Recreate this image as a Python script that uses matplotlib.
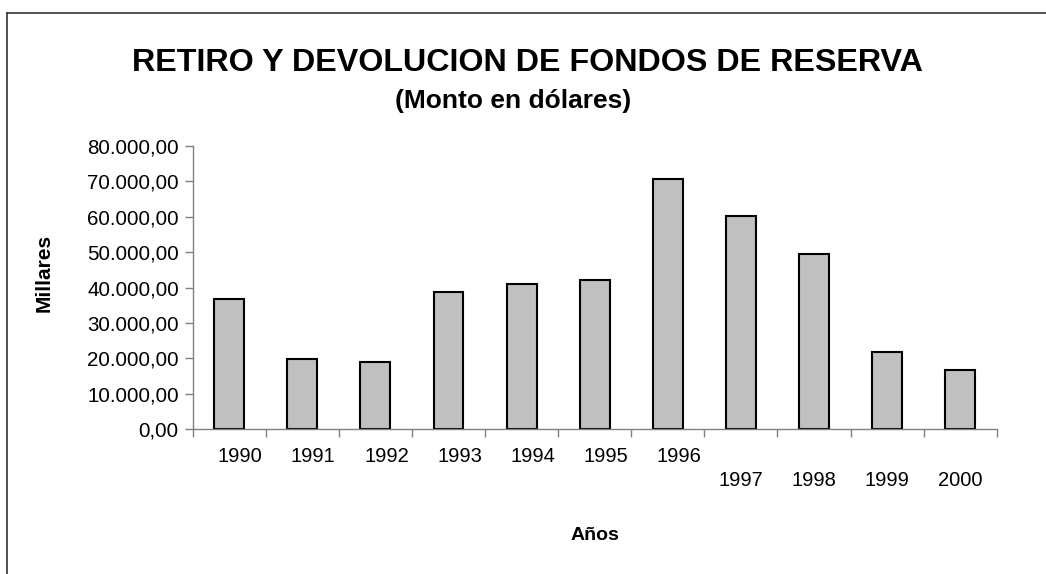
import matplotlib.pyplot as plt
import matplotlib.transforms as mtransforms
from matplotlib.lines import Line2D
from matplotlib.ticker import FuncFormatter

plt.rcParams['font.family'] = ['Liberation Sans', 'DejaVu Sans']

################################
# Data
################################
years = ['1990', '1991', '1992', '1993', '1994', '1995',
         '1996', '1997', '1998', '1999', '2000']
montos = [36800, 19800, 19000, 38700, 41000, 42100,
          70800, 60200, 49400, 21900, 16650]

################################
# Plot
################################
fig = plt.figure(figsize=(10.46, 5.74), dpi=100)
ax = fig.add_axes([0.1842, 0.2526, 0.7687, 0.4930])

x = list(range(len(years)))
ax.bar(x, montos, width=0.41, color='#C0C0C0', edgecolor='black', linewidth=1.5)

ax.set_xlim(-0.5, len(years) - 0.5)
ax.set_ylim(0, 80000)
ax.set_yticks(range(0, 80001, 10000))

def fmt(v, pos):
    s = f'{v:,.2f}'
    return s.replace(',', 'X').replace('.', ',').replace('X', '.')

ax.yaxis.set_major_formatter(FuncFormatter(fmt))

# category ticks between bars, labels at bar centers
ax.set_xticks([i - 0.5 for i in range(len(years) + 1)])
ax.set_xticklabels([])
ax.set_xticks(x, minor=True)
ax.set_xticklabels([y if i < 7 else '\n' + y for i, y in enumerate(years)],
                   minor=True, linespacing=1.3)
ax.tick_params(axis='x', which='minor', length=0, pad=13, labelsize=14.5)
ax.tick_params(axis='x', which='major', length=6, color='#808080', width=1)
ax.tick_params(axis='y', length=6, color='#808080', width=1, labelsize=14.8, pad=4)

# upper row labels sit a bit to the right
for i, lab in enumerate(ax.get_xticklabels(minor=True)):
    if i < 7:
        lab.set_transform(lab.get_transform() +
                          mtransforms.ScaledTranslation(11 / 100, 0, fig.dpi_scale_trans))

for side in ['top', 'right']:
    ax.spines[side].set_visible(False)
for side in ['left', 'bottom']:
    ax.spines[side].set_color('#808080')
    ax.spines[side].set_linewidth(1)

fig.text(527 / 1046, 1 - 63 / 574, 'RETIRO Y DEVOLUCION DE FONDOS DE RESERVA',
         ha='center', va='center', fontsize=23.2, fontweight='bold')
fig.text(513 / 1046, 1 - 101 / 574, '(Monto en dólares)',
         ha='center', va='center', fontsize=19, fontweight='bold')
fig.text(595 / 1046, 1 - 535 / 574, 'Años',
         ha='center', va='center', fontsize=14, fontweight='bold')
fig.text(44 / 1046, 1 - 273 / 574, 'Millares', rotation=90,
         ha='center', va='center', fontsize=15, fontweight='bold')

# outer chart frame (cut at right and bottom)
fig.add_artist(Line2D([6.5 / 1046, 1], [1 - 12.5 / 574, 1 - 12.5 / 574],
                      color='#333333', linewidth=1.2))
fig.add_artist(Line2D([6.5 / 1046, 6.5 / 1046], [0, 1 - 12.5 / 574],
                      color='#333333', linewidth=1.2))

fig.savefig('out.png', dpi=100)
